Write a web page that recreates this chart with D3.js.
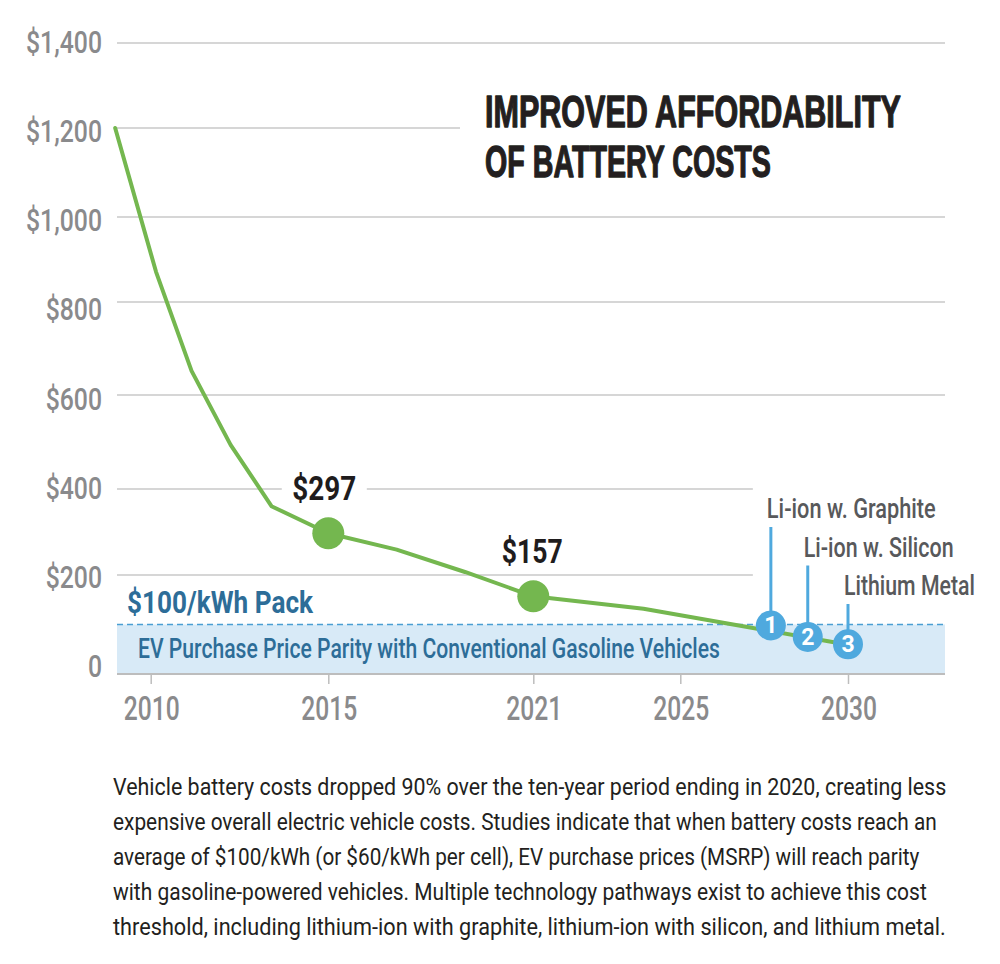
<!DOCTYPE html>
<html>
<head>
<meta charset="utf-8">
<script src="https://cdn.jsdelivr.net/npm/d3@7/dist/d3.min.js"></script>
<style>
  html, body { margin: 0; padding: 0; background: #ffffff; }
  svg { display: block; }
  text { font-family: Roboto, "Noto Sans", "DejaVu Sans", sans-serif; }
</style>
</head>
<body>
<svg id="chart" width="1000" height="964"></svg>
<script>
// ---------------- data ----------------
const yearTicks = [2010, 2015, 2021, 2025, 2030];
const yearTickLabels = ["2010", "2015", "2021", "2025", "2030"];
const valueTicks = [0, 200, 400, 600, 800, 1000, 1200, 1400];
const valueTickLabels = ["0", "$200", "$400", "$600", "$800", "$1,000", "$1,200", "$1,400"];

const costYears  = [2009, 2010.15, 2011.15, 2012.25, 2013.4, 2015, 2017, 2019, 2021, 2024, 2027, 2030];
const costValues = [1200, 871,     652,     494,     360,    297,  259,  207,  157,  132,  95,   59];

const highlightYears  = [2015, 2021];
const highlightValues = [297, 157];
const highlightLabels = ["$297", "$157"];

const pathwayNumbers = ["1", "2", "3"];
const pathwayNames   = ["Li-ion w. Graphite", "Li-ion w. Silicon", "Lithium Metal"];
const pathwayYears   = [2027.7, 2028.8, 2030];
const pathwayValues  = [98, 75, 60];

const parityValue = 100;
const parityTitle = "$100/kWh Pack";
const parityText  = "EV Purchase Price Parity with Conventional Gasoline Vehicles";

const titleLines = ["IMPROVED AFFORDABILITY", "OF BATTERY COSTS"];
const captionLines = [
  "Vehicle battery costs dropped 90% over the ten-year period ending in 2020, creating less",
  "expensive overall electric vehicle costs. Studies indicate that when battery costs reach an",
  "average of $100/kWh (or $60/kWh per cell), EV purchase prices (MSRP) will reach parity",
  "with gasoline-powered vehicles. Multiple technology pathways exist to achieve this cost",
  "threshold, including lithium-ion with graphite, lithium-ion with silicon, and lithium metal."
];

// ---------------- layout ----------------
const svg = d3.select("#chart");
svg.append("rect").attr("width", 1000).attr("height", 964).attr("fill", "#ffffff");

const plotLeft = 117, plotRight = 945;
const GREEN = "#74b74f", BLUE = "#4fa9de", BAND = "#d8eaf7", TEXTBLUE = "#2d6d98",
      GRID = "#c9c9c9", AXISGRAY = "#8a8a8c";
const TITLE_FONT = '"Liberation Sans Narrow", "Liberation Sans", Arial, sans-serif';

// the reference axis spacing is slightly irregular; piecewise linear scales follow it
const x = d3.scaleLinear().domain(yearTicks).range([150.7, 328.3, 533.3, 680.3, 848]);
const y = d3.scaleLinear().domain(valueTicks).range([674, 575, 489, 395, 302, 217, 128, 43]);
const yLabel = d3.scaleLinear().domain([0, 1400]).range([665.5, 41.7]);

// helper: draw text condensed horizontally to a target width (or factor)
function ctext(parent, px, py, str, o) {
  const g = parent.append("g").attr("transform", `translate(${px},${py})`);
  const t = g.append("text")
    .attr("x", 0).attr("y", 0)
    .attr("text-anchor", o.anchor || "start")
    .attr("font-size", o.size)
    .attr("font-weight", o.weight || 400)
    .attr("fill", o.fill || "#231f20")
    .text(str);
  if (o.family) t.style("font-family", o.family);
  if (o.stroke) t.attr("stroke", o.fill).attr("stroke-width", o.stroke).attr("stroke-linejoin", "round");
  const nat = t.node().getComputedTextLength();
  const k = o.width ? o.width / nat : (o.k || 1);
  t.attr("transform", `scale(${k},1)`);
  return { g, t, nat, k };
}
function factorFor(str, size, weight, width) {
  const t = svg.append("text").attr("font-size", size).attr("font-weight", weight).text(str);
  const w = t.node().getComputedTextLength();
  t.remove();
  return width / w;
}

// ---------------- parity band ----------------
svg.append("rect")
  .attr("x", plotLeft).attr("y", y(parityValue))
  .attr("width", plotRight - plotLeft).attr("height", y(0) - y(parityValue))
  .attr("fill", BAND);
svg.append("line")
  .attr("x1", plotLeft).attr("x2", plotRight)
  .attr("y1", y(parityValue)).attr("y2", y(parityValue))
  .attr("stroke", "#4a9fd3").attr("stroke-width", 1.4).attr("stroke-dasharray", "6,4");

// ---------------- title ----------------
const titleX = 485;
ctext(svg, titleX, 127,   titleLines[0], { size: 44, weight: 700, fill: "#231f20", width: 416, family: TITLE_FONT, stroke: 1.3 });
ctext(svg, titleX, 176.5, titleLines[1], { size: 44, weight: 700, fill: "#231f20", width: 286, family: TITLE_FONT, stroke: 1.3 });

// pathway labels positions (needed for gridline stops)
const pathwayLabelBase = pathwayNames.map((d, i) => 518 + i * 38.5);
const firstPathwayLabelX = x(pathwayYears[0]) - 4;

// highlight label extents
const hlLabelW = [64, 61];

// ---------------- gridlines ----------------
const gridG = svg.append("g");
valueTicks.forEach(v => {
  if (v === 0) return;
  let segs = [[plotLeft, plotRight]];
  if (v === 1200) segs = [[plotLeft, titleX - 25]];
  if (v === 400 || v === 200) segs = [[plotLeft, firstPathwayLabelX - 14]];
  if (v === 400) {
    const cx = x(highlightYears[0]) - 4, hw = hlLabelW[0] / 2 + 10.5;
    segs = [[plotLeft, cx - hw], [cx + hw, firstPathwayLabelX - 14]];
  }
  segs.forEach(s => gridG.append("line")
    .attr("x1", s[0]).attr("x2", s[1]).attr("y1", y(v)).attr("y2", y(v))
    .attr("stroke", GRID).attr("stroke-width", 1.5));
});

// baseline + x ticks
svg.append("line").attr("x1", plotLeft).attr("x2", plotRight)
  .attr("y1", y(0)).attr("y2", y(0)).attr("stroke", "#bdbdbd").attr("stroke-width", 2);
const xAxis = d3.axisBottom(x).tickValues(yearTicks).tickSize(10).tickFormat("");
const xg = svg.append("g").attr("transform", `translate(0,${y(0)})`).call(xAxis);
xg.select(".domain").remove();
xg.selectAll(".tick line").attr("stroke", "#bdbdbd").attr("stroke-width", 1.5);

// x labels
const kx = factorFor("2010", 34, 500, 56);
yearTicks.forEach((yr, i) => {
  ctext(svg, x(yr) + 1, 720, yearTickLabels[i], { size: 34, weight: 500, fill: AXISGRAY, anchor: "middle", k: kx });
});

// y labels
const ky = factorFor("$1,400", 32, 500, 76);
valueTicks.forEach((v, i) => {
  ctext(svg, 102, yLabel(v) + 0.355 * 32, valueTickLabels[i], { size: 32, weight: 500, fill: AXISGRAY, anchor: "end", k: ky });
});

// ---------------- parity texts ----------------
ctext(svg, 127, 613, parityTitle, { size: 32, weight: 700, fill: TEXTBLUE, width: 186 });
ctext(svg, 138, 658, parityText,  { size: 27, weight: 500, fill: TEXTBLUE, width: 582 });

// ---------------- cost line ----------------
const costData = costYears.map((yr, i) => ({ yr, v: costValues[i] }));
svg.append("path").datum(costData)
  .attr("fill", "none").attr("stroke", GREEN).attr("stroke-width", 4)
  .attr("stroke-linejoin", "round").attr("stroke-linecap", "round")
  .attr("d", d3.line().x(d => x(d.yr)).y(d => y(d.v)));

// highlight dots + labels
highlightYears.forEach((yr, i) => {
  svg.append("circle").attr("cx", x(yr)).attr("cy", y(highlightValues[i])).attr("r", 16).attr("fill", GREEN);
  ctext(svg, x(yr) - (i === 0 ? 4 : 1), y(highlightValues[i]) - 33, highlightLabels[i],
    { size: 34, weight: 700, fill: "#1f1c1d", anchor: "middle", width: hlLabelW[i] });
});

// ---------------- pathways ----------------
const pathWidths = [169, 150, 131];
pathwayYears.forEach((yr, i) => {
  const cx = x(yr), cy = y(pathwayValues[i]);
  svg.append("line").attr("x1", cx).attr("x2", cx)
    .attr("y1", pathwayLabelBase[i] + 9).attr("y2", cy - 10)
    .attr("stroke", BLUE).attr("stroke-width", 3);
  svg.append("circle").attr("cx", cx).attr("cy", cy).attr("r", 15).attr("fill", BLUE);
  svg.append("text").attr("x", cx).attr("y", cy + 8).attr("text-anchor", "middle")
    .attr("font-size", 23).attr("font-weight", 700).attr("fill", "#ffffff").text(pathwayNumbers[i]);
  ctext(svg, cx - 4, pathwayLabelBase[i], pathwayNames[i],
    { size: 27, weight: 500, fill: "#58595b", width: pathWidths[i] });
});

// ---------------- caption ----------------
const capWidths = [834, 824, 807, 814, 833];
captionLines.forEach((line, i) => {
  ctext(svg, 113, 795 + i * 35, line, { size: 23.5, weight: 400, fill: "#231f20", width: capWidths[i] });
});
</script>
</body>
</html>
